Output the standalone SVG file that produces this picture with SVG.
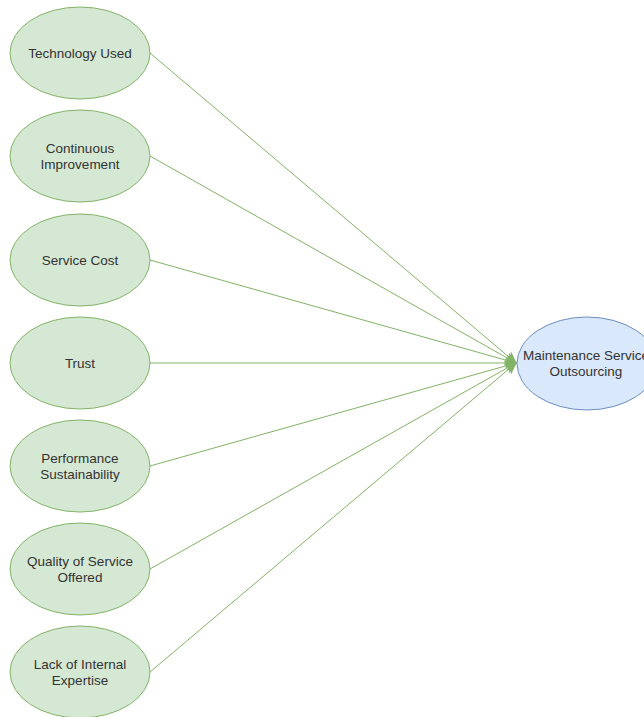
<svg xmlns="http://www.w3.org/2000/svg" width="644" height="717" viewBox="0 0 644 717">
<style>
.src ellipse{fill:#d5e8d4;stroke:#82b366;stroke-width:1}
.tgt ellipse{fill:#dae8fc;stroke:#6c8ebf;stroke-width:1}
text{font-family:"Liberation Sans",Arial,Helvetica,sans-serif;font-size:13.5px;fill:#333333;text-anchor:middle}
.edges line{stroke:#82b366;stroke-width:1;fill:none}
</style>
<defs>
<marker id="arr" markerUnits="userSpaceOnUse" viewBox="-11 -6 12 12" refX="0" refY="0" markerWidth="12" markerHeight="12" orient="auto">
<path d="M0,0 L-10,-4.5 L-7,0 L-10,4.5 Z" fill="#82b366" stroke="#82b366" stroke-width="1"/>
</marker>
</defs>
<rect width="644" height="717" fill="#ffffff"/>
<g class="edges" id="connectors" marker-end="url(#arr)">
<line x1="150" y1="53" x2="516" y2="363" marker-end="url(#arr)"/>
<line x1="150" y1="156" x2="516" y2="363" marker-end="url(#arr)"/>
<line x1="150" y1="260" x2="516" y2="363" marker-end="url(#arr)"/>
<line x1="150" y1="363" x2="516" y2="363" marker-end="url(#arr)"/>
<line x1="150" y1="466" x2="516" y2="363" marker-end="url(#arr)"/>
<line x1="150" y1="569" x2="516" y2="363" marker-end="url(#arr)"/>
<line x1="150" y1="672" x2="516" y2="363" marker-end="url(#arr)"/>
</g>
<g id="n1" class="src"><ellipse cx="80" cy="53" rx="70" ry="46"/><text x="80" y="58">Technology Used</text></g>
<g id="n2" class="src"><ellipse cx="80" cy="156" rx="70" ry="46"/><text x="80" y="153">Continuous</text><text x="80" y="169">Improvement</text></g>
<g id="n3" class="src"><ellipse cx="80" cy="260" rx="70" ry="46"/><text x="80" y="265">Service Cost</text></g>
<g id="n4" class="src"><ellipse cx="80" cy="363" rx="70" ry="46"/><text x="80" y="368">Trust</text></g>
<g id="n5" class="src"><ellipse cx="80" cy="466" rx="70" ry="46"/><text x="80" y="463">Performance</text><text x="80" y="479">Sustainability</text></g>
<g id="n6" class="src"><ellipse cx="80" cy="569" rx="70" ry="46"/><text x="80" y="566">Quality of Service</text><text x="80" y="582">Offered</text></g>
<g id="n7" class="src"><ellipse cx="80" cy="672" rx="70" ry="46"/><text x="80" y="669">Lack of Internal</text><text x="80" y="685">Expertise</text></g>
<g id="target" class="tgt"><ellipse cx="587" cy="363.5" rx="70" ry="46.5"/><text x="586" y="360">Maintenance Service</text><text x="586" y="376">Outsourcing</text></g>
</svg>
